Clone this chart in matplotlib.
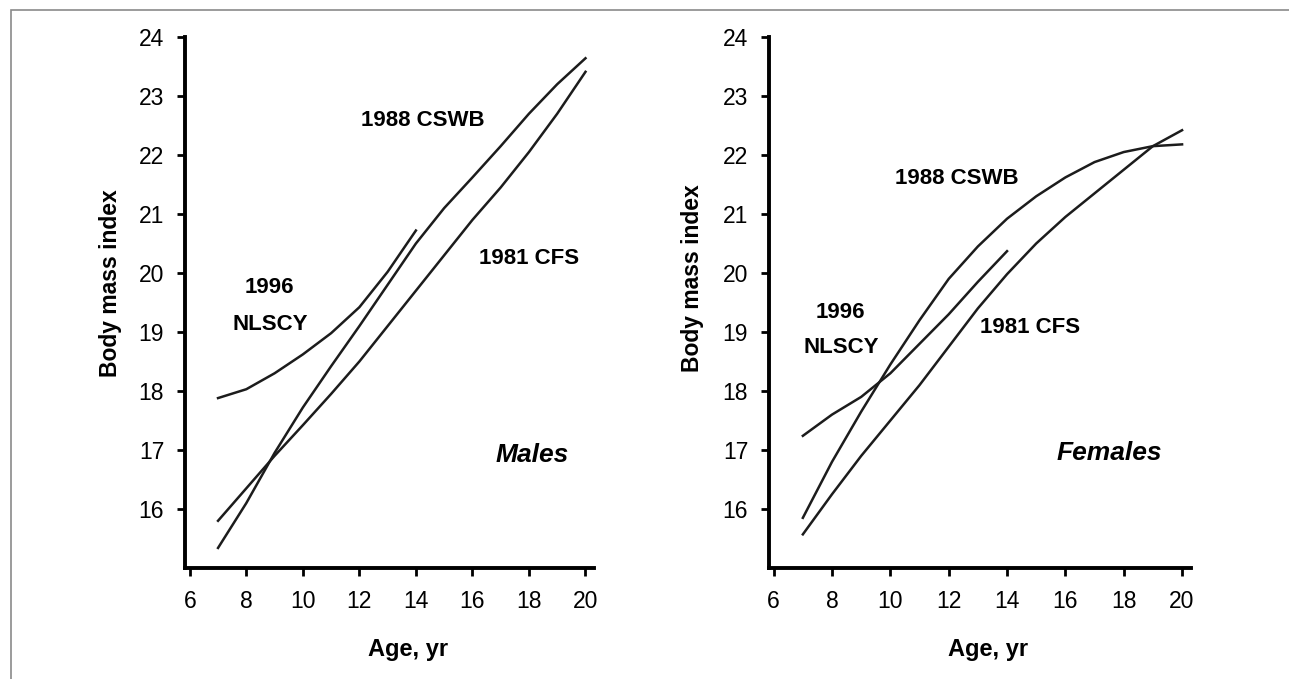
import matplotlib
matplotlib.use('Agg')
import matplotlib.pyplot as plt
from matplotlib.patches import Rectangle

plt.rcParams['font.family'] = ['Liberation Sans', 'DejaVu Sans']

# Ages (yr)
ages_long = [7, 8, 9, 10, 11, 12, 13, 14, 15, 16, 17, 18, 19, 20]
ages_short = [7, 8, 9, 10, 11, 12, 13, 14]

# Males - body mass index
male_cswb = [15.34, 16.1, 16.95, 17.72, 18.42, 19.1, 19.8, 20.5, 21.1, 21.62, 22.15, 22.7, 23.2, 23.64]
male_cfs = [15.8, 16.35, 16.9, 17.42, 17.95, 18.5, 19.1, 19.7, 20.3, 20.9, 21.45, 22.05, 22.7, 23.41]
male_nlscy = [17.88, 18.03, 18.3, 18.62, 18.98, 19.42, 20.02, 20.72]

# Females - body mass index
female_cswb = [15.85, 16.8, 17.65, 18.45, 19.2, 19.9, 20.45, 20.92, 21.3, 21.62, 21.88, 22.05, 22.15, 22.18]
female_cfs = [15.57, 16.25, 16.9, 17.5, 18.1, 18.75, 19.4, 19.98, 20.5, 20.95, 21.35, 21.75, 22.15, 22.42]
female_nlscy = [17.24, 17.6, 17.9, 18.3, 18.8, 19.3, 19.85, 20.37]

x_ticks = [6, 8, 10, 12, 14, 16, 18, 20]
y_ticks = [16, 17, 18, 19, 20, 21, 22, 23, 24]

line_color = '#1c1c1c'

fig = plt.figure(figsize=(12.89, 6.79), dpi=100)

# grey frame round the figure (only top and left edges are in view)
fig.patches.append(Rectangle((0.0085, -0.2), 1.3, 0.9853 + 0.2, transform=fig.transFigure,
                             fill=False, edgecolor='#8a8a8a', linewidth=1.2))

ax1 = fig.add_axes([0.1435, 0.1635, 0.3173, 0.782])
ax2 = fig.add_axes([0.5966, 0.1635, 0.3270, 0.782])


def style_axes(ax, xlim, xlab_x, ylab_y):
    ax.set_xlim(*xlim)
    ax.set_ylim(15, 24)
    ax.set_xticks(x_ticks)
    ax.set_yticks(y_ticks)
    for side in ['top', 'right']:
        ax.spines[side].set_visible(False)
    for side in ['left', 'bottom']:
        ax.spines[side].set_linewidth(2.8)
        ax.spines[side].set_color('black')
    ax.tick_params(direction='out', length=6, width=2, labelsize=16.5, color='black')
    ax.tick_params(axis='x', pad=10)
    ax.tick_params(axis='y', pad=9)
    ax.set_xlabel('Age, yr', fontsize=17, fontweight='bold')
    ax.set_ylabel('Body mass index', fontsize=16.5, fontweight='bold')
    ax.xaxis.set_label_coords(xlab_x, -0.132)
    ax.yaxis.set_label_coords(-0.155, ylab_y)


# Males
ax1.plot(ages_long, male_cswb, color=line_color, lw=1.8)
ax1.plot(ages_long, male_cfs, color=line_color, lw=1.8)
ax1.plot(ages_short, male_nlscy, color=line_color, lw=1.8)
style_axes(ax1, (5.83, 20.3), 0.545, 0.537)

lab = dict(fontsize=16, fontweight='bold', ha='center', va='center')
ax1.text(14.24, 22.59, '1988 CSWB', **lab)
ax1.text(18.02, 20.25, '1981 CFS', **lab)
ax1.text(8.82, 19.76, '1996', **lab)
ax1.text(8.86, 19.12, 'NLSCY', **lab)
ax1.text(18.1, 16.92, 'Males', fontsize=19, fontweight='bold', fontstyle='italic',
         ha='center', va='center')

# Females
ax2.plot(ages_long, female_cswb, color=line_color, lw=1.8)
ax2.plot(ages_long, female_cfs, color=line_color, lw=1.8)
ax2.plot(ages_short, female_nlscy, color=line_color, lw=1.8)
style_axes(ax2, (5.84, 20.29), 0.52, 0.545)

ax2.text(12.29, 21.61, '1988 CSWB', **lab)
ax2.text(14.8, 19.08, '1981 CFS', **lab)
ax2.text(8.3, 19.33, '1996', **lab)
ax2.text(8.33, 18.74, 'NLSCY', **lab)
ax2.text(17.49, 16.95, 'Females', fontsize=19, fontweight='bold', fontstyle='italic',
         ha='center', va='center')

fig.savefig('out.png', dpi=100)
